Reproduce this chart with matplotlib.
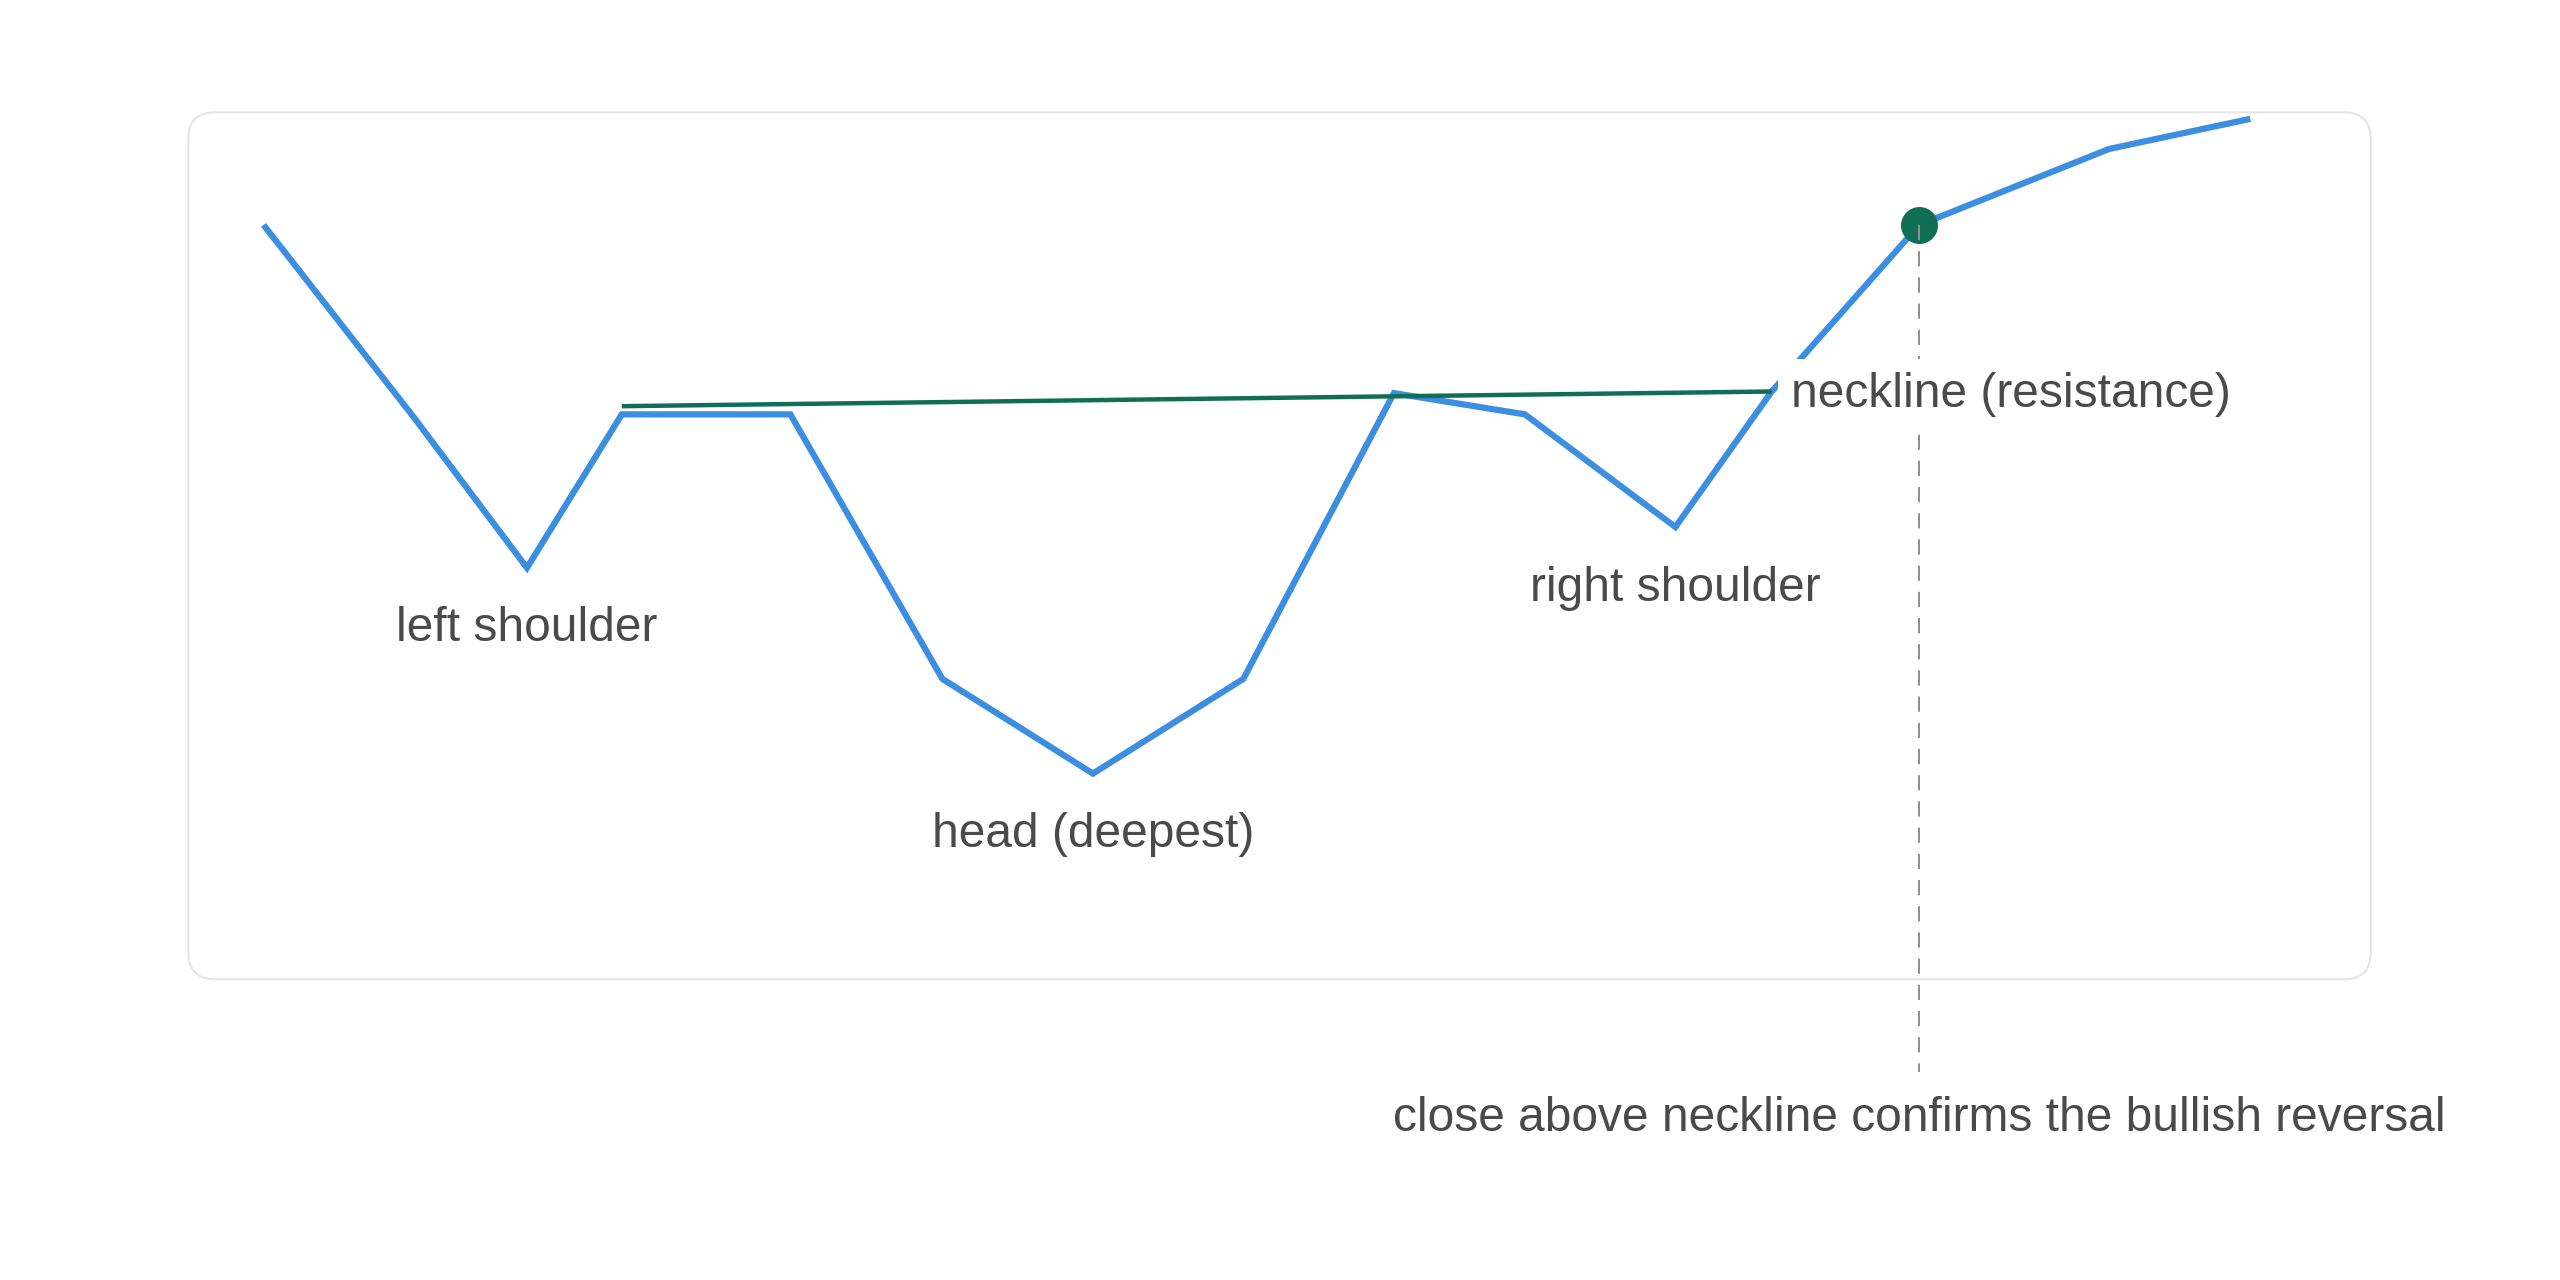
import matplotlib
matplotlib.use('Agg')
import matplotlib.pyplot as plt
from matplotlib.patches import FancyBboxPatch

# Price path of the inverse head & shoulders (x in sessions, y in price units)
sessions = [0, 1.0, 1.75, 2.38, 3.5, 4.51, 5.51, 6.51, 7.51, 8.38, 9.38, 10.02, 11.0, 12.26, 13.2]
prices = [46.2, 34.4, 25.2, 34.6, 34.6, 18.4, 12.6, 18.4, 35.9, 34.6, 27.7, 36.0, 46.2, 50.85, 52.7]

# Neckline drawn across the two reaction highs
neck_x = [2.38, 10.02]
neck_y = [35.1, 36.0]

# Breakout close (index into the price path)
breakout = 12

# Pattern labels: text, index of the point they sit under
labels = [('left shoulder', 2), ('head (deepest)', 6), ('right shoulder', 10)]
neck_label = 'neckline (resistance)'
note = 'close above neckline confirms the bullish reversal'
guide_bottom = -5.7
note_y = -9.3

blue = '#3b8ee0'
green = '#0f6e54'
text_col = '#4a4a4a'

plt.rcParams['font.family'] = ['Liberation Sans', 'DejaVu Sans']
fs = 34.5

fig = plt.figure(figsize=(25.6, 12.8), dpi=100)
fig.patch.set_facecolor('white')
ax = fig.add_axes([0.07355, 0.23492, 0.85254, 0.67735])
ax.set_xlim(-0.5, 14.0)
ax.set_ylim(0, 53.1)
ax.axis('off')

# rounded card behind the chart
W = 0.85254 * 2560
H = 0.67735 * 1280
card = FancyBboxPatch((0, 0), 1, 1, boxstyle='round,pad=0,rounding_size=%f' % (27 / W),
                      mutation_aspect=W / H, transform=ax.transAxes,
                      facecolor='white', edgecolor='#e4e4e4', linewidth=1.5,
                      zorder=0, clip_on=False)
ax.add_patch(card)

ax.plot(sessions, prices, color=blue, lw=4.5, solid_joinstyle='miter',
        solid_capstyle='butt', zorder=3, clip_on=False)
ax.plot(neck_x, neck_y, color=green, lw=3.2, solid_capstyle='butt', zorder=4)

bx, by = sessions[breakout], prices[breakout]
ax.plot([bx], [by], 'o', color=green, markersize=26.6, markeredgewidth=0, zorder=5)
ax.plot([bx, bx], [by, guide_bottom], color='#8f8f8f', lw=1.44,
        linestyle=(0, (7.6, 5.5)), zorder=6, clip_on=False)

for text, i in labels:
    ax.annotate(text, (sessions[i], prices[i]), xytext=(0, -53), textcoords='offset points',
                ha='center', va='baseline', fontsize=fs, color=text_col, zorder=7)

ax.annotate(neck_label, (neck_x[1], neck_y[1]), xytext=(14, -11.5), textcoords='offset points',
            ha='left', va='baseline', fontsize=fs, color=text_col, zorder=8,
            bbox=dict(boxstyle='square,pad=0.28', facecolor='white', edgecolor='none'))

ax.text(bx, note_y, note, ha='center', va='baseline', fontsize=fs, color=text_col,
        zorder=7, clip_on=False)

plt.savefig('out.png', dpi=100, facecolor='white')
